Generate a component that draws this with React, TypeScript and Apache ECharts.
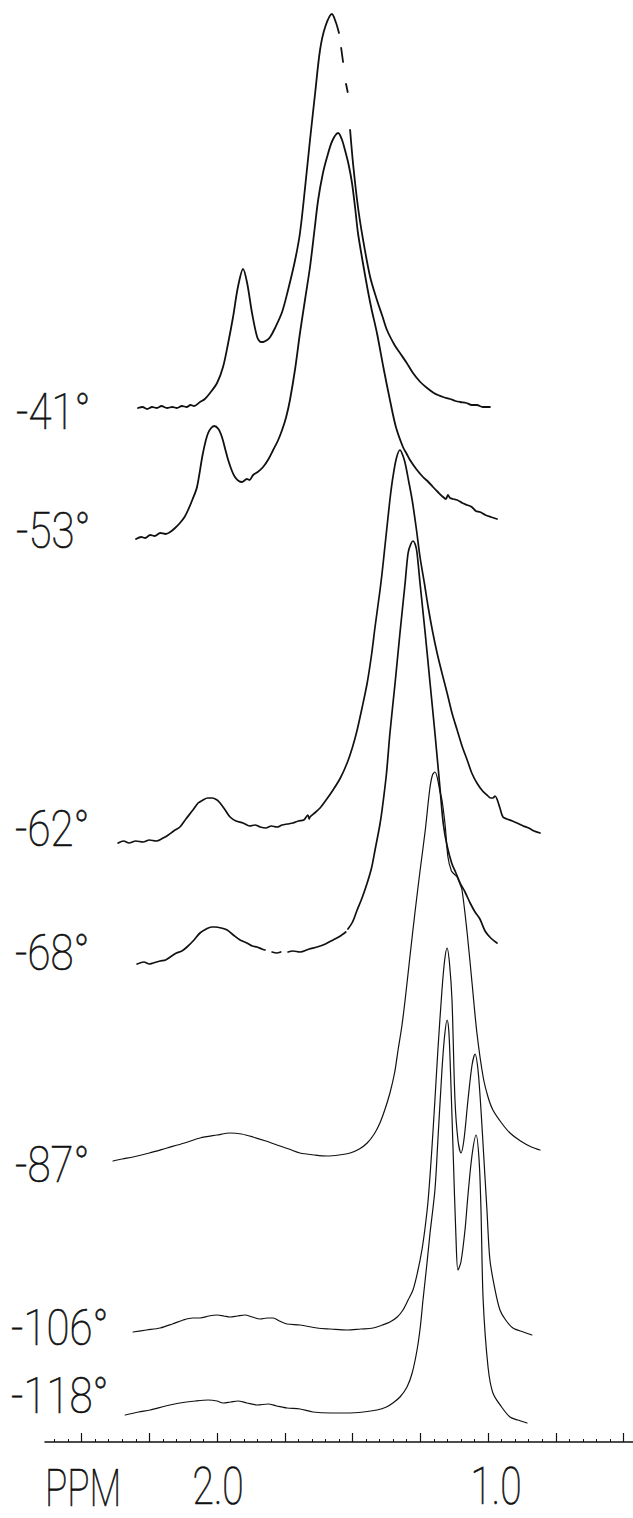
import React, { useEffect, useRef } from "react";
import * as echarts from "echarts";

// ---- axis ----
const PPM_MIN = 0.465;
const PPM_MAX = 2.635;
const majorTicks = [2.5, 2.25, 2.0, 1.75, 1.5, 1.25, 1.0, 0.75, 0.5];
const minorTicks = [
  2.6, 2.55, 2.45, 2.4, 2.35, 2.3, 2.2, 2.15, 2.1, 2.05, 1.95, 1.9, 1.85, 1.8,
  1.7, 1.65, 1.6, 1.55, 1.45, 1.4, 1.35, 1.3, 1.2, 1.15, 1.1, 1.05, 0.95, 0.9,
  0.85, 0.8, 0.7, 0.65, 0.6, 0.55,
];
const tickLabelValues = [2.0, 1.0];
const tickLabelTexts = ["2.0", "1.0"];
const axisTitle = "PPM";

// ---- spectra (ppm, intensity above own baseline) ----
const temperatures = ["-41°", "-53°", "-62°", "-68°", "-87°", "-106°", "-118°"];
const offsets = [1034, 903, 599, 478, 281, 110, 27];

type Pt = [number, number] | null;

const s41: Pt[] = [
  [2.292, 0], [2.275, 1], [2.258, -1], [2.24, 1], [2.222, 0], [2.205, 2], [2.185, 0],
  [2.165, 1], [2.148, 0], [2.13, 2], [2.112, 1], [2.098, 3], [2.085, 2], [2.063, 6],
  [2.045, 9], [2.026, 15], [2.0, 25], [1.978, 41], [1.959, 65], [1.941, 91],
  [1.923, 121], [1.904, 139], [1.889, 125], [1.871, 95], [1.852, 71], [1.838, 66],
  [1.83, 66], [1.815, 68], [1.804, 71], [1.786, 80], [1.76, 96], [1.738, 118],
  [1.712, 148], [1.694, 175], [1.675, 221], [1.657, 268], [1.638, 315], [1.62, 358],
  [1.601, 381], [1.576, 394], [1.562, 386], [1.55, 375], null, [1.542, 360],
  [1.535, 346], null, [1.524, 324], [1.518, 316], null, [1.509, 278], [1.498, 244],
  [1.48, 201], [1.461, 168], [1.435, 131], [1.41, 108], [1.39, 92], [1.373, 78],
  [1.345, 63], [1.325, 55], [1.3, 45], [1.277, 35], [1.25, 26], [1.225, 20],
  [1.2, 15], [1.185, 13], [1.166, 11], [1.14, 9], [1.12, 7], [1.103, 6], [1.08, 5],
  [1.06, 3], [1.041, 3], [1.02, 1], [0.993, 1],
];

const s53: Pt[] = [
  [2.299, 0], [2.28, 2], [2.265, 1], [2.247, 4], [2.23, 3], [2.21, 6], [2.19, 5],
  [2.173, 7], [2.155, 11], [2.137, 16], [2.12, 22], [2.107, 29], [2.09, 40],
  [2.074, 52], [2.052, 86], [2.033, 106], [2.011, 113], [1.995, 110], [1.982, 102],
  [1.97, 90], [1.959, 79], [1.945, 68], [1.934, 62], [1.92, 58], [1.908, 57],
  [1.89, 60], [1.88, 59], [1.867, 64], [1.85, 67], [1.83, 72], [1.81, 80],
  [1.793, 89], [1.776, 98], [1.76, 109], [1.745, 122], [1.731, 139], [1.712, 170],
  [1.694, 206], [1.675, 240], [1.657, 272], [1.64, 310], [1.627, 339], [1.61, 365],
  [1.594, 382], [1.575, 398], [1.553, 406], [1.54, 400], [1.528, 389], [1.515, 375],
  [1.502, 356], [1.49, 330], [1.48, 306], [1.463, 278], [1.446, 252], [1.43, 230],
  [1.41, 206], [1.385, 170], [1.362, 139], [1.34, 112], [1.314, 92], [1.3, 85],
  [1.288, 79], [1.265, 70], [1.24, 62], [1.22, 57], [1.203, 52], [1.185, 47],
  [1.166, 42], [1.155, 40], [1.148, 44], [1.14, 41], [1.128, 40], [1.114, 39],
  [1.095, 36], [1.077, 34], [1.06, 32], [1.045, 28], [1.03, 27], [1.01, 24],
  [0.99, 22], [0.967, 20],
];

const s62: Pt[] = [
  [2.365, 0], [2.345, 2], [2.325, 0], [2.3, 2], [2.273, 1], [2.25, 3], [2.225, 2],
  [2.199, 5], [2.18, 8], [2.16, 12], [2.137, 16], [2.115, 24], [2.089, 33],
  [2.07, 40], [2.052, 43], [2.035, 45], [2.018, 45], [2.0, 43], [1.989, 40],
  [1.97, 33], [1.952, 26], [1.93, 22], [1.904, 20], [1.88, 17], [1.86, 18],
  [1.841, 16], [1.82, 15], [1.8, 17], [1.779, 16], [1.76, 18], [1.74, 19],
  [1.72, 20], [1.7, 22], [1.68, 23], [1.665, 28], [1.66, 24], [1.657, 26],
  [1.64, 30], [1.62, 35], [1.595, 44], [1.572, 53], [1.545, 65], [1.52, 80],
  [1.5, 96], [1.483, 113], [1.465, 135], [1.446, 160], [1.43, 188], [1.417, 216],
  [1.4, 250], [1.391, 270], [1.38, 298], [1.369, 326], [1.36, 348], [1.351, 366],
  [1.338, 385], [1.325, 393], [1.315, 388], [1.306, 380], [1.293, 362], [1.28, 343],
  [1.265, 315], [1.251, 286], [1.235, 260], [1.221, 236], [1.205, 212], [1.188, 190],
  [1.17, 170], [1.151, 150], [1.133, 130], [1.114, 113], [1.096, 97], [1.077, 83],
  [1.06, 70], [1.041, 60], [1.02, 52], [1.004, 48], [0.99, 45], [0.982, 45],
  [0.974, 47], [0.967, 44], [0.956, 35], [0.945, 26], [0.93, 24], [0.91, 22],
  [0.893, 20], [0.87, 17], [0.85, 15], [0.83, 12], [0.808, 10],
];

const s68: Pt[] = [
  [2.295, 0], [2.27, 2], [2.25, 0], [2.236, 1], [2.21, 3], [2.19, 4], [2.173, 7],
  [2.15, 11], [2.13, 13], [2.111, 17], [2.085, 24], [2.063, 31], [2.04, 35],
  [2.02, 37], [2.007, 37], [1.985, 36], [1.963, 34], [1.94, 29], [1.915, 24],
  [1.89, 21], [1.87, 18], [1.852, 17], [1.835, 15], [1.823, 14], null, [1.797, 12],
  [1.78, 11], [1.765, 12], null, [1.738, 12], [1.72, 13], [1.694, 12], [1.66, 15],
  [1.631, 17], [1.6, 20], [1.572, 24], [1.545, 28], [1.525, 32], null, [1.517, 35],
  [1.5, 42], [1.483, 54], [1.465, 66], [1.446, 81], [1.43, 96], [1.417, 114],
  [1.4, 138], [1.391, 154], [1.375, 190], [1.362, 231], [1.343, 281], [1.325, 331],
  [1.306, 381], [1.295, 411], [1.285, 420], [1.277, 423], [1.268, 419], [1.262, 411],
  [1.251, 381], [1.232, 331], [1.214, 281], [1.196, 231], [1.177, 175], [1.165, 140],
  [1.151, 118], [1.133, 100], [1.12, 92], [1.103, 81], [1.085, 72], [1.066, 61],
  [1.048, 52], [1.03, 45], [1.011, 33], [0.99, 26], [0.967, 21],
];

const s87: Pt[] = [
  [2.384, 0], [2.35, 2], [2.31, 4], [2.25, 8], [2.185, 13], [2.12, 18], [2.063, 23],
  [2.0, 26], [1.952, 28], [1.91, 27], [1.867, 24], [1.82, 20], [1.779, 16],
  [1.735, 12], [1.694, 8], [1.64, 6], [1.594, 5], [1.55, 6], [1.509, 8],
  [1.475, 12], [1.446, 18], [1.42, 27], [1.399, 38], [1.38, 52], [1.362, 68],
  [1.345, 88], [1.332, 111], [1.318, 135], [1.306, 161], [1.288, 205], [1.269, 250],
  [1.251, 290], [1.232, 330], [1.215, 372], [1.205, 386], [1.196, 389], [1.187, 383],
  [1.178, 370], [1.17, 361], [1.158, 335], [1.148, 304], [1.135, 290], [1.125, 287],
  [1.114, 284], [1.105, 278], [1.096, 271], [1.077, 228], [1.059, 178], [1.041, 128],
  [1.018, 84], [1.0, 64], [0.982, 51], [0.95, 38], [0.919, 28], [0.88, 20],
  [0.84, 14], [0.808, 11],
];

const s106: Pt[] = [
  [2.31, 0], [2.26, 2], [2.21, 4], [2.165, 8], [2.125, 12], [2.09, 14], [2.063, 14],
  [2.03, 16], [2.0, 17], [1.975, 16], [1.952, 15], [1.925, 16], [1.897, 17],
  [1.87, 15], [1.841, 13], [1.815, 14], [1.793, 14], [1.77, 11], [1.742, 8],
  [1.694, 7], [1.631, 4], [1.58, 3], [1.52, 2], [1.47, 3], [1.424, 4], [1.39, 7],
  [1.362, 10], [1.335, 15], [1.314, 22], [1.295, 32], [1.277, 42], [1.26, 60],
  [1.244, 82], [1.232, 105], [1.221, 132], [1.208, 180], [1.196, 232], [1.185, 282],
  [1.17, 342], [1.16, 372], [1.151, 384], [1.142, 368], [1.133, 332], [1.122, 232],
  [1.111, 192], [1.1, 179], [1.089, 192], [1.074, 232], [1.059, 267], [1.048, 278],
  [1.037, 262], [1.026, 222], [1.015, 172], [1.004, 122], [0.993, 72], [0.974, 42],
  [0.956, 22], [0.935, 12], [0.908, 4], [0.87, 0], [0.838, -3],
];

const s118: Pt[] = [
  [2.339, 0], [2.29, 3], [2.247, 5], [2.19, 9], [2.137, 12], [2.08, 14], [2.033, 15],
  [2.0, 14], [1.978, 12], [1.95, 13], [1.923, 14], [1.89, 12], [1.852, 10],
  [1.812, 11], [1.78, 9], [1.742, 7], [1.694, 6], [1.646, 3], [1.58, 2], [1.52, 2],
  [1.46, 3], [1.41, 5], [1.375, 8], [1.351, 12], [1.325, 18], [1.299, 28],
  [1.28, 42], [1.262, 65], [1.25, 88], [1.24, 115], [1.226, 150], [1.214, 182],
  [1.196, 225], [1.185, 275], [1.17, 345], [1.16, 380], [1.151, 395], [1.145, 385],
  [1.14, 355], [1.129, 265], [1.118, 175], [1.111, 145], [1.1, 153], [1.085, 185],
  [1.074, 220], [1.059, 260], [1.044, 280], [1.033, 255], [1.026, 205], [1.018, 115],
  [1.0, 48], [0.982, 22], [0.95, 8], [0.919, -2], [0.89, -5], [0.856, -8],
];

const spectra = [s41, s53, s62, s68, s87, s106, s118];

// ---- layout (pixels) ----
const W = 633;
const H = 1518;
const GRID_LEFT = 45;
const AXIS_Y = 1442;
const labelX = [16, 16, 15, 15, 15, 11, 11];
const labelY = [412, 531, 829, 953, 1165, 1328, 1396];
const lineWidths = [1.8, 1.8, 1.7, 1.7, 1.2, 1.2, 1.2];
const INK = "#111";
const FONT_FAMILY = "Roboto, 'DejaVu Sans', sans-serif";

export default function App() {
  const ref = useRef<HTMLDivElement>(null);

  useEffect(() => {
    if (!ref.current) return;
    const chart = echarts.init(ref.current, null, { renderer: "svg" });

    const series = spectra.map((s, i) => ({
      type: "line",
      name: temperatures[i],
      xAxisIndex: 0,
      yAxisIndex: 0,
      data: s.map((p) => (p === null ? "-" : [p[0], p[1] + offsets[i]])),
      symbol: "none",
      showSymbol: false,
      smooth: 0.3,
      connectNulls: false,
      silent: true,
      lineStyle: { color: INK, width: lineWidths[i], cap: "round", join: "round" },
    }));

    chart.setOption({
      animation: false,
      backgroundColor: "#ffffff",
      grid: { left: GRID_LEFT, right: 0, top: 0, bottom: H - AXIS_Y, containLabel: false },
      xAxis: [
        {
          type: "value",
          inverse: true,
          min: PPM_MIN,
          max: PPM_MAX,
          position: "bottom",
          axisLine: { show: true, lineStyle: { color: INK, width: 1.6 } },
          axisTick: {
            show: true,
            inside: true,
            length: 9,
            customValues: majorTicks,
            lineStyle: { color: INK, width: 1.2 },
          },
          axisLabel: { show: false },
          splitLine: { show: false },
        },
        {
          type: "value",
          inverse: true,
          min: PPM_MIN,
          max: PPM_MAX,
          position: "bottom",
          axisLine: { show: false },
          axisTick: {
            show: true,
            inside: true,
            length: 3,
            customValues: minorTicks,
            lineStyle: { color: INK, width: 1 },
          },
          axisLabel: { show: false },
          splitLine: { show: false },
        },
      ],
      yAxis: { type: "value", min: 0, max: AXIS_Y, show: false },
      series,
    });

    const textStyle = (text: string, size: number, align: string) => ({
      text,
      font: `100 ${size}px ${FONT_FAMILY}`,
      fill: INK,
      stroke: INK,
      lineWidth: 0.7,
      textAlign: align,
      textVerticalAlign: "middle",
    });

    const graphics: any[] = [];
    tickLabelValues.forEach((v, i) => {
      const px = chart.convertToPixel({ xAxisIndex: 0 }, v) as number;
      graphics.push({
        type: "text",
        x: px + (i === 1 ? 8 : 1),
        y: 1486,
        scaleX: 0.78,
        scaleY: 1.05,
        silent: true,
        style: textStyle(tickLabelTexts[i], 50, "center"),
      });
    });
    graphics.push({
      type: "text",
      x: 45,
      y: 1488,
      scaleX: 0.74,
      scaleY: 1.05,
      silent: true,
      style: textStyle(axisTitle, 50, "left"),
    });
    temperatures.forEach((t, i) => {
      graphics.push({
        type: "text",
        x: labelX[i],
        y: labelY[i],
        scaleX: 0.84,
        silent: true,
        style: textStyle(t, 50, "left"),
      });
    });
    chart.setOption({ graphic: graphics });

    return () => chart.dispose();
  }, []);

  return (
    <div
      ref={ref}
      style={{ position: "absolute", left: 0, top: 0, width: W, height: H, background: "#fff" }}
    />
  );
}
